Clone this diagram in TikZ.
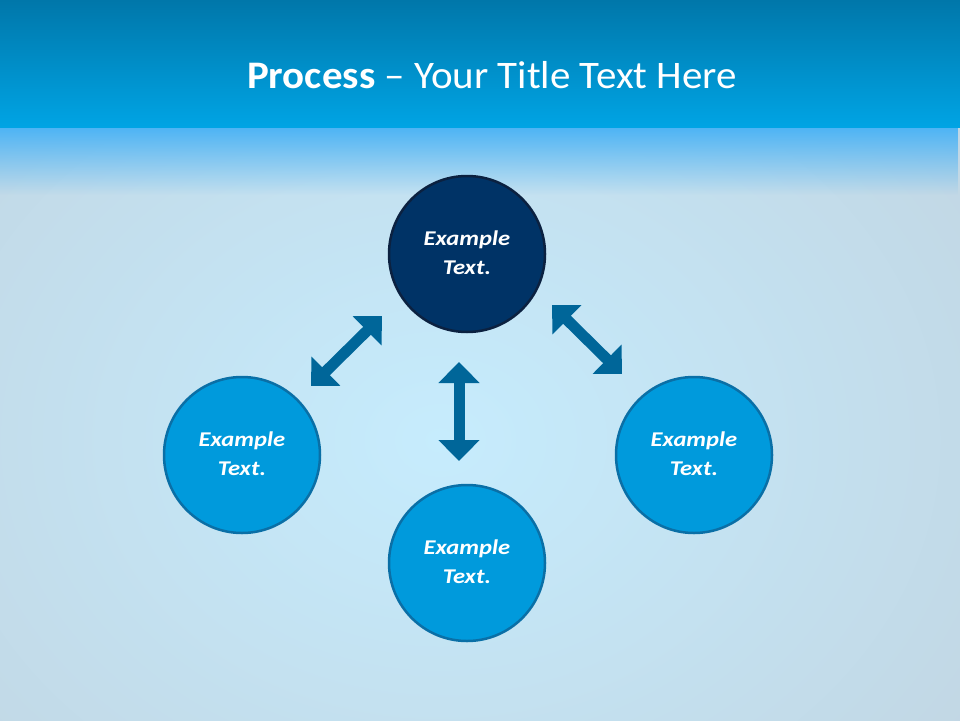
\documentclass[tikz,border=0pt]{standalone}
\usepackage{fontspec}
\setmainfont{Carlito}
\usetikzlibrary{arrows.meta,fadings}
\definecolor{bandtop}{HTML}{0077AA}
\definecolor{bandmid}{HTML}{008FCD}
\definecolor{bandbot}{HTML}{00A4E4}
\definecolor{glowblue}{HTML}{4DB4F5}
\definecolor{bginner}{HTML}{C6ECFD}
\definecolor{bgouter}{HTML}{BFCBD6}
\definecolor{navyfill}{HTML}{003366}
\definecolor{navyedge}{HTML}{0B2140}
\definecolor{cyanfill}{HTML}{009ADC}
\definecolor{cyanedge}{HTML}{0A6FA6}
\definecolor{arrowblue}{HTML}{006699}
\tikzfading[name=bandfade, top color=transparent!0, bottom color=transparent!100]
\newcommand{\bubbletext}{\scalebox{1.17}[1]{\begin{tabular}{@{}c@{}}Example\\Text.\end{tabular}}}
\tikzset{
  bubble/.style={circle, minimum size=156pt, inner sep=0pt, line width=2.5pt,
    text=white, font=\fontsize{21}{29}\selectfont\bfseries\itshape},
  topbubble/.style={bubble, fill=navyfill, draw=navyedge},
  subbubble/.style={bubble, fill=cyanfill, draw=cyanedge},
  blockarrow/.style={draw=arrowblue, line width=11pt,
    {Triangle[width=40pt,length=21pt,fill=arrowblue]}-{Triangle[width=40pt,length=21pt,fill=arrowblue]}}
}
\begin{document}
\begin{tikzpicture}[x=1pt,y=-1pt]
\useasboundingbox (0,0) rectangle (960,720);
% body background
\begin{scope}
  \clip (0,120) rectangle (960,720);
  \shade[inner color=bginner, outer color=bgouter] (-560,-360) rectangle (1440,1240);
\end{scope}
% glow band under header
\fill[glowblue, path fading=bandfade] (0,127) rectangle (960,195);
% header band
\shade[top color=bandtop, middle color=bandmid, bottom color=bandbot] (0,0) rectangle (960,127);
\node[text=white, font=\fontsize{39}{45}\selectfont] (title) at (492,75)
  {\scalebox{1.05}[1]{\textbf{Process} -- Your Title Text Here}};
% circles
\node[topbubble] (top) at (467,254) {\bubbletext};
\node[subbubble] (left) at (242,455) {\bubbletext};
\node[subbubble] (right) at (694,455) {\bubbletext};
\node[subbubble] (bottom) at (467,563) {\bubbletext};
% arrow end points
\coordinate (la) at (382,316);
\coordinate (lb) at (311,386);
\coordinate (ra) at (552,305);
\coordinate (rb) at (622,374);
\coordinate (va) at (459,362);
\coordinate (vb) at (459,461);
\draw[blockarrow] (la) -- (lb);
\draw[blockarrow] (ra) -- (rb);
\draw[blockarrow] (va) -- (vb);
\end{tikzpicture}
\end{document}
